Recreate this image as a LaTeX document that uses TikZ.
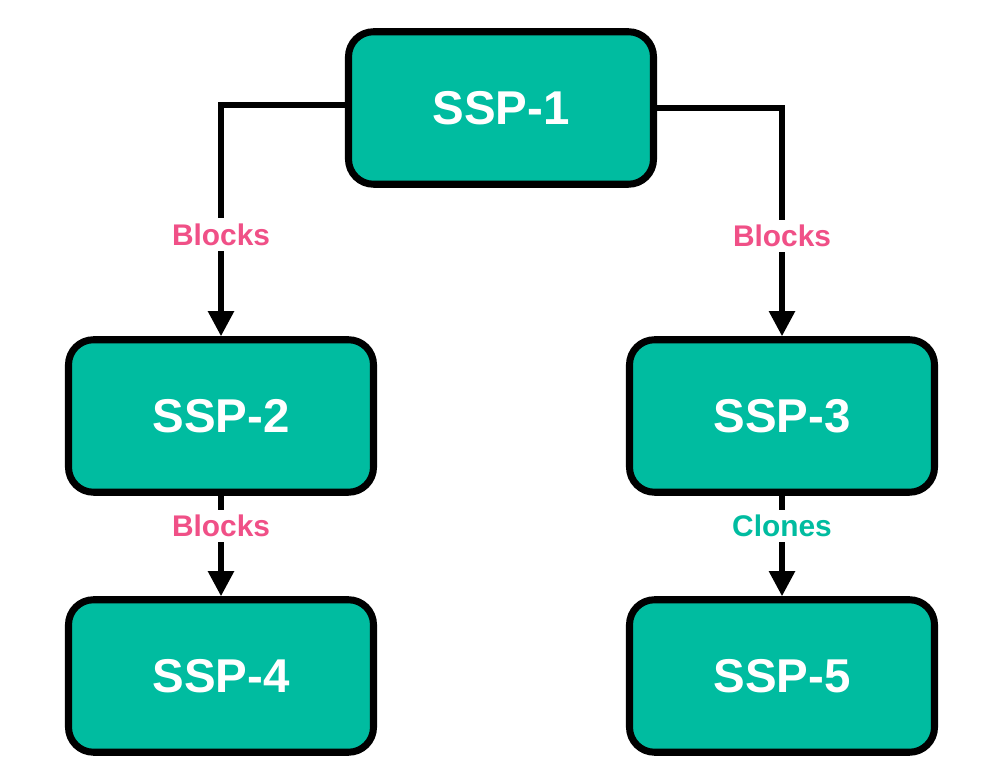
\documentclass[tikz,border=0pt]{standalone}
\usepackage{fontspec}
\setmainfont{Liberation Sans}
\usetikzlibrary{arrows.meta}
\definecolor{sspteal}{RGB}{0,188,160}
\definecolor{blockpink}{RGB}{240,80,135}
\tikzset{
  ssp/.style={draw=black, line width=4pt, fill=sspteal, rounded corners=0.5cm,
    minimum width=6.1cm, minimum height=3.05cm, text=white,
    font=\fontsize{27}{30}\selectfont\bfseries},
  link/.style={line width=3pt, -{Triangle[length=0.5cm,width=0.5cm]}},
  lbl/.style={fill=white, inner sep=3pt, font=\fontsize{17}{19}\selectfont\bfseries}
}
\begin{document}
\begin{tikzpicture}
\useasboundingbox (0,0) rectangle (20,15.68);

\node [ssp] (s1) at (10.02, 13.52) {SSP-1};
\node [ssp] (s2) at (4.42, 7.36) {SSP-2};
\node [ssp] (s3) at (15.64, 7.36) {SSP-3};
\node [ssp] (s4) at (4.42, 2.16) {SSP-4};
\node [ssp] (s5) at (15.64, 2.16) {SSP-5};

\draw [link] ([yshift=0.06cm]s1.west) -| node [lbl, text=blockpink, pos=0.78] {Blocks} (s2.north);
\draw [link] ([yshift=0.0cm]s1.east) -| node [lbl, text=blockpink, pos=0.78] {Blocks} (s3.north);
\draw [link] (s2.south) -- node [lbl, text=blockpink, pos=0.3] {Blocks} (s4.north);
\draw [link] (s3.south) -- node [lbl, text=sspteal, pos=0.3] {Clones} (s5.north);

\end{tikzpicture}
\end{document}
